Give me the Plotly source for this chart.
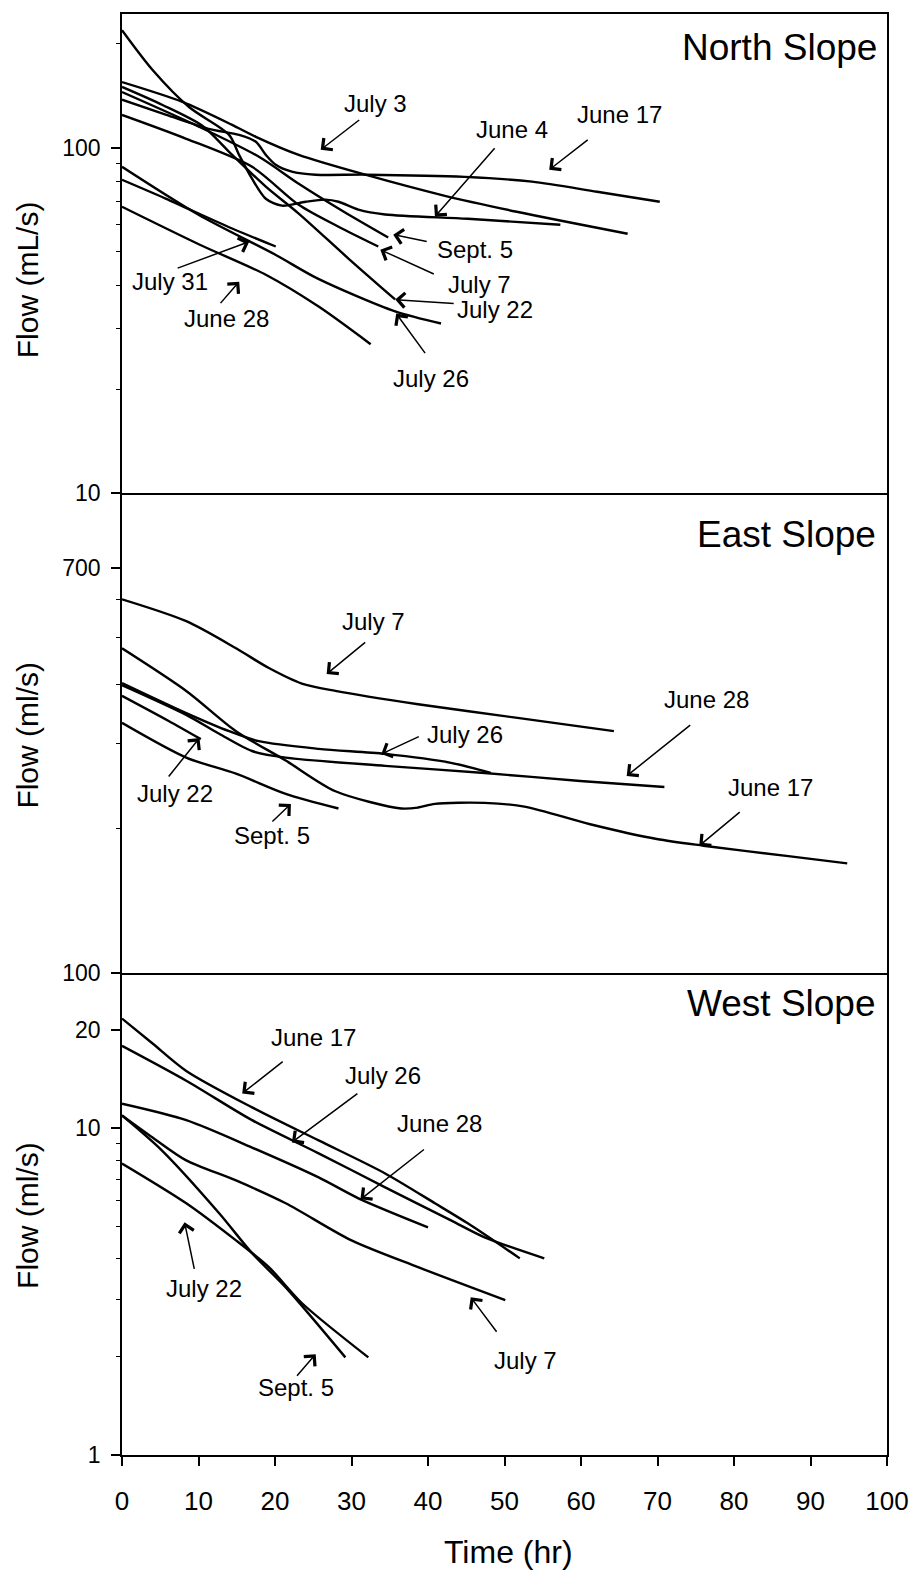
import plotly.graph_objects as go

# ---------------- DATA ----------------
# North Slope (mL/s)
N_jun4_t = [0, 4.0, 8.8, 14.0, 15.3, 17.0, 18.8, 20.9, 24.0, 26.6, 28.3, 30.9, 34.4, 45.2, 57.3]
N_jun4_q = [219, 168, 131, 109, 95.4, 81.4, 71.2, 68.0, 69.8, 70.8, 69.8, 66.2, 64.1, 62.3, 59.9]
N_jun17_t = [0, 5.8, 11.3, 15.3, 17.5, 18.8, 20.1, 22.2, 25.3, 31.9, 44.8, 53.6, 62.1, 70.3]
N_jun17_q = [137.8, 124.5, 113.5, 109.0, 104.1, 95.4, 89.3, 85.3, 83.6, 83.6, 82.4, 79.8, 74.6, 69.8]
N_jul3_t = [0, 7.9, 14.4, 17.5, 23.1, 31.8, 41.7, 51.6, 66.1]
N_jul3_q = [155, 135.8, 116.5, 107.6, 95.4, 83.6, 73.1, 65.3, 56.4]
N_jul22_t = [0, 5.3, 10.5, 14.0, 18.8, 23.1, 29.6, 35.7]
N_jul22_q = [150, 133, 115.8, 97.4, 77.2, 64.5, 47.8, 36.4]
N_sep5_t = [0, 10.1, 17.9, 23.1, 29.0, 34.8]
N_sep5_q = [145, 115, 94.2, 78.7, 65.3, 55.0]
N_jul7_t = [0, 8.4, 17.0, 23.1, 28.3, 33.5]
N_jul7_q = [124.5, 106.2, 88.1, 68.4, 59.1, 51.8]
N_jul26_t = [0, 10.0, 20.0, 25.6, 35.7, 41.7]
N_jul26_q = [88.1, 64.0, 49.1, 41.8, 33.6, 31.0]
N_jul31_t = [0, 5.7, 14.4, 20.1]
N_jul31_q = [80.8, 71.3, 58.4, 51.8]
N_jun28_t = [0, 10.1, 18.8, 25.7, 32.5]
N_jun28_q = [67.5, 52.5, 42.9, 34.7, 27.0]

# East Slope (ml/s)
E_jul7_t = [0, 8.4, 14.9, 19.2, 23.5, 27.9, 38.7, 51.7, 64.3]
E_jul7_q = [601, 541, 475, 432, 401, 387, 363, 340, 319]
E_jun17_t = [0, 8.4, 14.9, 21.4, 27.9, 36.5, 38.7, 40.9, 47.4, 52.6, 61.2, 69.9, 76.0, 87.1, 94.8]
E_jun17_q = [475, 387, 319, 277, 239, 220, 221, 225, 226, 222, 204, 190, 184, 175, 169]
E_jun28_t = [0, 8.4, 12.7, 17.0, 21.4, 34.4, 47.4, 59.9, 70.9]
E_jun28_q = [398, 345, 315, 290, 281, 270, 261, 251, 244]
E_jul26_t = [0, 8.4, 14.0, 17.9, 25.7, 34.4, 43.0, 48.2]
E_jul26_q = [402, 348, 319, 304, 293, 286, 274, 261]
E_jul22_t = [0, 6.1, 10.3]
E_jul22_q = [378, 335, 307]
E_sep5_t = [0, 8.4, 14.9, 21.4, 28.3]
E_sep5_q = [332, 281, 260, 236, 220]

# West Slope (ml/s)
W_jun17_t = [0, 4.0, 8.4, 17.0, 25.7, 34.4, 40.9, 45.2, 52.0]
W_jun17_q = [21.7, 18.2, 15.0, 11.6, 9.19, 7.28, 5.90, 5.12, 4.0]
W_jul26_t = [0, 8.4, 17.0, 25.7, 34.4, 43.0, 47.4, 55.2]
W_jul26_q = [17.9, 14.0, 10.6, 8.39, 6.60, 5.23, 4.64, 4.0]
W_jun28_t = [0, 8.4, 17.0, 25.7, 30.9, 40.0]
W_jun28_q = [11.9, 10.6, 8.74, 7.08, 6.11, 4.98]
W_jul7_t = [0, 4.0, 8.4, 14.9, 21.4, 30.0, 38.7, 50.1]
W_jul7_q = [10.96, 9.38, 7.98, 6.93, 5.90, 4.54, 3.76, 2.98]
W_sep5_t = [0, 5.2, 12.7, 17.0, 21.4, 29.2]
W_sep5_q = [10.96, 8.57, 5.50, 4.15, 3.26, 1.99]
W_jul22_t = [0, 8.4, 14.9, 19.2, 23.5, 32.2]
W_jul22_q = [7.81, 5.90, 4.54, 3.76, 2.92, 1.99]

x_ticks = [0, 10, 20, 30, 40, 50, 60, 70, 80, 90, 100]

# ---------------- FIGURE ----------------
FONT = "Liberation Sans, Arial, sans-serif"
fig = go.Figure()

series = [
    ("x", "y", N_jun4_t, N_jun4_q), ("x", "y", N_jun17_t, N_jun17_q),
    ("x", "y", N_jul3_t, N_jul3_q), ("x", "y", N_jul22_t, N_jul22_q),
    ("x", "y", N_sep5_t, N_sep5_q), ("x", "y", N_jul7_t, N_jul7_q),
    ("x", "y", N_jul26_t, N_jul26_q), ("x", "y", N_jul31_t, N_jul31_q),
    ("x", "y", N_jun28_t, N_jun28_q),
    ("x2", "y2", E_jul7_t, E_jul7_q), ("x2", "y2", E_jun17_t, E_jun17_q),
    ("x2", "y2", E_jun28_t, E_jun28_q), ("x2", "y2", E_jul26_t, E_jul26_q),
    ("x2", "y2", E_jul22_t, E_jul22_q), ("x2", "y2", E_sep5_t, E_sep5_q),
    ("x3", "y3", W_jun17_t, W_jun17_q), ("x3", "y3", W_jul26_t, W_jul26_q),
    ("x3", "y3", W_jun28_t, W_jun28_q), ("x3", "y3", W_jul7_t, W_jul7_q),
    ("x3", "y3", W_sep5_t, W_sep5_q), ("x3", "y3", W_jul22_t, W_jul22_q),
]
for xa, ya, t, q in series:
    fig.add_trace(go.Scatter(x=t, y=q, xaxis=xa, yaxis=ya, mode="lines",
                             line=dict(color="black", width=2.4, shape="spline", smoothing=0.8),
                             showlegend=False, hoverinfo="skip"))

L, R, T, B = 122, 892, 12, 1455
W, H = 921, 1570
PH = B - T
d3 = (B - 972) / PH
d2 = (B - 492) / PH

tickfont = dict(family=FONT, size=23, color="black")
common_x = dict(range=[0, 100], showline=True, linecolor="black", linewidth=1.5,
                showgrid=False, zeroline=False)
common_y = dict(type="log", showline=True, linecolor="black", linewidth=1.5, mirror=True,
                showgrid=False, zeroline=False, ticks="outside", ticklen=9, tickwidth=1.5,
                tickcolor="black", tickfont=tickfont, ticklabelstandoff=6)

fig.update_layout(
    width=W, height=H, paper_bgcolor="white", plot_bgcolor="white",
    margin=dict(l=L, r=W - R, t=T, b=H - B),
    xaxis=dict(**common_x, mirror=True, domain=[0, 1], anchor="y", showticklabels=False, ticks=""),
    xaxis2=dict(**common_x, mirror=False, domain=[0, 1], anchor="y2", showticklabels=False, ticks=""),
    xaxis3=dict(**common_x, mirror=False, domain=[0, 1], anchor="y3", tickvals=x_ticks,
                ticks="outside", ticklen=9, tickwidth=1.5, tickcolor="black",
                ticklabelstandoff=13, tickfont=dict(family=FONT, size=26, color="black")),
    yaxis=dict(**common_y, domain=[d2, 1], anchor="x", range=[0.9999, 2.3873],
               tickvals=[10, 100], ticktext=["10", "100"],
               minor=dict(tickvals=[20, 30, 40, 50, 60, 70, 80, 90, 200], ticks="outside",
                          ticklen=4, tickcolor="black", tickwidth=1)),
    yaxis2=dict(**common_y, domain=[d3, d2], anchor="x2", range=[1.9999, 3.0],
                tickvals=[100, 700], ticktext=["100", "700"],
                minor=dict(tickvals=[200, 300, 400, 500, 600], ticks="outside",
                           ticklen=4, tickcolor="black", tickwidth=1)),
    yaxis3=dict(**common_y, domain=[0, d3], anchor="x3", range=[-0.0001, 1.477],
                tickvals=[1, 10, 20], ticktext=["1", "10", "20"],
                minor=dict(tickvals=[2, 3, 4, 5, 6, 7, 8, 9], ticks="outside",
                           ticklen=4, tickcolor="black", tickwidth=1)),
)


def P(px, py):
    return (px - L) / (R - L), (B - py) / PH


anns = []


def label(text, px, py, size=24, xanchor="center", angle=0):
    x, y = P(px, py)
    anns.append(dict(x=x, y=y, xref="paper", yref="paper", text=text, showarrow=False,
                     xanchor=xanchor, yanchor="middle", textangle=angle,
                     font=dict(family=FONT, size=size, color="black")))


def arrow(tail, tip):
    x, y = P(*tip)
    anns.append(dict(x=x, y=y, xref="paper", yref="paper", text="", showarrow=True,
                     ax=tail[0] - tip[0], ay=tail[1] - tip[1], axref="pixel", ayref="pixel",
                     arrowhead=4, arrowsize=1.9, arrowwidth=1.5, arrowcolor="black",
                     standoff=0, startstandoff=0))


# panel titles
label("North Slope", 884, 46, size=37, xanchor="right")
label("East Slope", 883, 533, size=37, xanchor="right")
label("West Slope", 883, 1003, size=37, xanchor="right")

# axis titles
label("Flow (mL/s)", 27, 278, size=30, angle=-90)
label("Flow (ml/s)", 27, 734, size=30, angle=-90)
label("Flow (ml/s)", 27, 1215, size=30, angle=-90)
label("Time (hr)", 511, 1552, size=32)

# curve labels with arrows: (text, text centre, arrow tail, arrow tip) in pixels
for text, pos, tail, tip in [
    # North
    ("July 3", (377, 102), (362, 117), (322, 148)),
    ("June 4", (515, 128), (498, 145), (437, 215)),
    ("June 17", (623, 113), (592, 137), (552, 168)),
    ("Sept. 5", (477, 248), (430, 240), (395, 233)),
    ("July 7", (482, 283), (437, 273), (382, 248)),
    ("July 22", (497, 308), (457, 302), (397, 298)),
    ("July 26", (433, 377), (428, 353), (398, 312)),
    ("July 31", (170, 280), (177, 267), (250, 240)),
    ("June 28", (227, 317), (220, 303), (240, 280)),
    # East
    ("July 7", (375, 620), (368, 640), (328, 673)),
    ("July 26", (467, 733), (422, 735), (383, 753)),
    ("June 28", (710, 698), (695, 723), (630, 775)),
    ("June 17", (775, 787), (745, 810), (703, 845)),
    ("July 22", (175, 793), (168, 777), (200, 737)),
    ("Sept. 5", (273, 835), (272, 822), (292, 803)),
    # West
    ("June 17", (315, 1037), (285, 1060), (243, 1093)),
    ("July 26", (385, 1075), (360, 1092), (293, 1142)),
    ("June 28", (442, 1123), (427, 1148), (362, 1199)),
    ("July 22", (205, 1288), (195, 1270), (185, 1222)),
    ("Sept. 5", (297, 1387), (297, 1377), (317, 1354)),
    ("July 7", (528, 1360), (500, 1333), (473, 1297)),
]:
    label(text, *pos)
    arrow(tail, tip)

fig.update_layout(annotations=anns)
fig.write_html("out.html")
